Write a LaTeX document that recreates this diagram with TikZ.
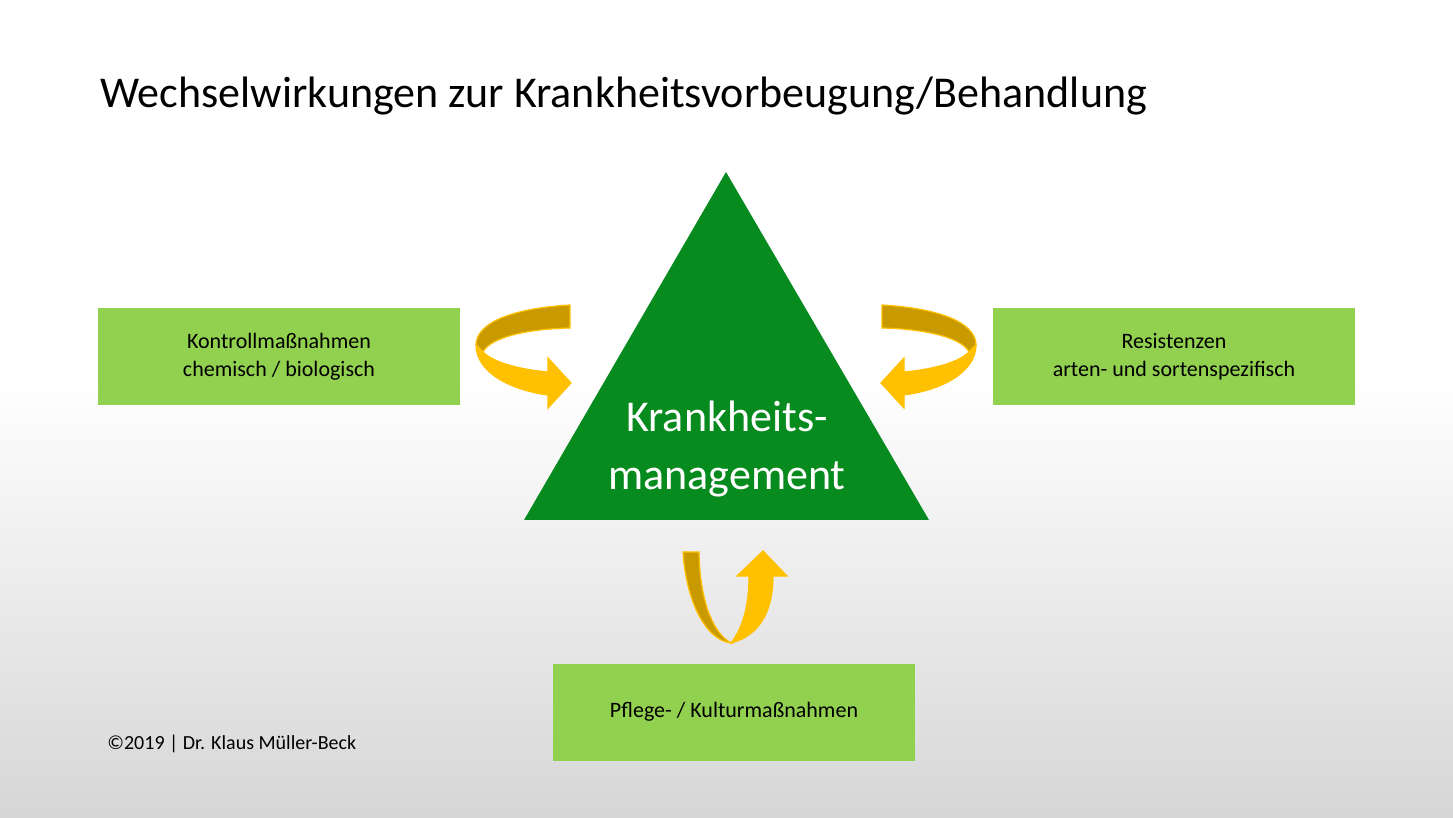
\documentclass[tikz,border=0pt]{standalone}
\usepackage{fontspec}
\setmainfont{Carlito}
\definecolor{boxg}{HTML}{92D050}
\definecolor{trig}{HTML}{078A1E}
\definecolor{gold}{HTML}{FFC000}
\definecolor{dgold}{HTML}{C99A00}
\definecolor{bgg}{HTML}{D6D6D6}
\begin{document}
\begin{tikzpicture}[x=0.5pt,y=-0.5pt,
  box/.style={fill=boxg,minimum width=181pt,minimum height=48.5pt,align=center,font=\fontsize{11}{14}\selectfont,inner sep=0pt},
  dband/.style={fill=dgold,draw=gold,line width=0.6pt},
  lband/.style={fill=gold,draw=gold,line width=0.6pt}]
\useasboundingbox (0,0) rectangle (1453,818);
\fill[white] (0,0) rectangle (1453,381);
\shade[top color=white,bottom color=bgg] (0,380) rectangle (1453,818);
\node[anchor=base west,font=\fontsize{22}{26}\selectfont,inner sep=0pt] (title) at (100,108) {Wechselwirkungen zur Krankheitsvorbeugung/Behandlung};
\fill[trig] (726,172) -- (929,520) -- (524,520) -- cycle;
\node[white,align=center,font=\fontsize{22}{29}\selectfont] (tri) at (727,449) {Krankheits-\\management};
\node[box] (left) at (279,356.5) {Kontrollmaßnahmen\\chemisch / biologisch};
\node[box] (right) at (1174,356.5) {Resistenzen\\arten- und sortenspezifisch};
\node[box] (bottom) at (734,712) {Pflege- / Kulturmaßnahmen};
\node[anchor=base west,font=\fontsize{10}{12}\selectfont,inner sep=0pt] (copy) at (107,749) {©2019 | Dr. Klaus Müller-Beck};
% left and right curved arrows
\foreach \s in {1,-1}{
\begin{scope}[xshift=(1-\s)*726*0.5pt,xscale=\s]
\path[dband] (570,305) .. controls (515,308) and (476,322) .. (476,345)
  -- (483,352) .. controls (490,338) and (525,329) .. (570,328) -- cycle;
\path[lband] (476,345) .. controls (476,372) and (510,390) .. (548,395)
  -- (548,408) -- (571,383) -- (548,358) -- (548,372)
  .. controls (525,370) and (495,364) .. (483,352) -- cycle;
\end{scope}}
% bottom arrow
\path[dband] (683,552) -- (699,552) .. controls (700,600) and (712,632) .. (731,643)
  .. controls (705,640) and (686,600) .. (683,552) -- cycle;
\path[lband] (731,643) .. controls (745,625) and (749,600) .. (749,576)
  -- (737,576) -- (763,551) -- (787,576) -- (773,576)
  .. controls (773,608) and (762,635) .. (731,643) -- cycle;
\end{tikzpicture}
\end{document}
